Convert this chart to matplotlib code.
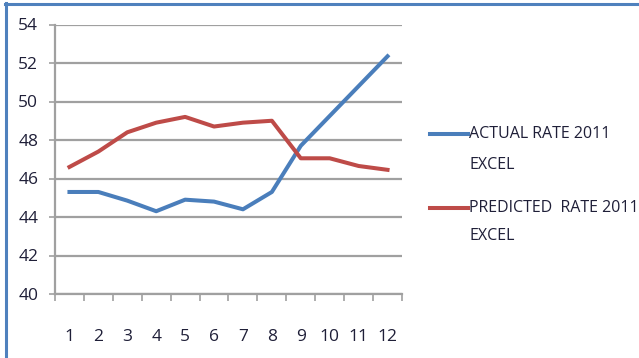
import matplotlib
matplotlib.use("Agg")
import matplotlib.pyplot as plt
from matplotlib.lines import Line2D

months = list(range(1, 13))
actual_rate = [45.3, 45.3, 44.85, 44.3, 44.9, 44.8, 44.4, 45.3, 47.7, 49.25, 50.8, 52.35]
predicted_rate = [46.6, 47.4, 48.4, 48.9, 49.2, 48.7, 48.9, 49.0, 47.05, 47.05, 46.65, 46.45]
y_ticks = [40, 42, 44, 46, 48, 50, 52, 54]
series_labels = [("ACTUAL RATE 2011", "EXCEL"), ("PREDICTED  RATE 2011", "EXCEL")]

BLUE = "#4a7ebb"
RED = "#be4b48"
GRID = "#a0a0a0"
TEXT = "#1f1f38"

plt.rcParams["font.family"] = ["Open Sans", "DejaVu Sans"]

W, H = 639, 358
fig = plt.figure(figsize=(W / 100, H / 100), dpi=100)
ax = fig.add_axes([55 / W, 1 - 294 / H, (402 - 55) / W, (294 - 24.5) / H])

ax.plot(months, actual_rate, color=BLUE, lw=2.9, solid_joinstyle="round", zorder=3)
ax.plot(months, predicted_rate, color=RED, lw=2.9, solid_joinstyle="round", zorder=3)

ax.set_xlim(0.5, 12.5)
ax.set_ylim(40, 54)
ax.set_yticks(y_ticks)
ax.set_yticklabels([str(v) for v in y_ticks], fontsize=12.5, color=TEXT)
ax.set_xticks(months)
ax.set_xticklabels([str(m) for m in months], fontsize=12.5, color=TEXT)
ax.set_xticks([m + 0.5 for m in [0] + months], minor=True)

ax.grid(axis="y", color=GRID, lw=1.6, zorder=1)
ax.set_axisbelow(True)
for side in ("top", "right"):
    ax.spines[side].set_visible(False)
for side in ("left", "bottom"):
    ax.spines[side].set_color(GRID)
    ax.spines[side].set_linewidth(1.6)

ax.tick_params(axis="y", length=4, width=1.2, color=GRID, pad=8)
ax.tick_params(axis="x", which="major", length=0, pad=25)
ax.tick_params(axis="x", which="minor", length=5, width=1.2, color=GRID)

# Legend drawn beside the plot, handle aligned with the first text line
legend_rows = [(BLUE, 134, 165), (RED, 208, 236)]
for (color, y1, y2), (line1, line2) in zip(legend_rows, series_labels):
    fig.add_artist(Line2D([430 / W, 468 / W], [1 - y1 / H, 1 - y1 / H],
                          transform=fig.transFigure, color=color, lw=2.9))
    fig.text(469 / W, 1 - y1 / H, line1, fontsize=11.5, color=TEXT, va="center", ha="left")
    fig.text(469 / W, 1 - y2 / H, line2, fontsize=11.5, color=TEXT, va="center", ha="left")

# Frame edges along the top and left
fig.add_artist(Line2D([5 / W, 1], [1 - 4 / H, 1 - 4 / H], transform=fig.transFigure,
                      color="#4f81bd", lw=2.2))
fig.add_artist(Line2D([6 / W, 6 / W], [0, 1 - 3 / H], transform=fig.transFigure,
                      color="#4f81bd", lw=2.2))

fig.savefig("out.png", dpi=100)
